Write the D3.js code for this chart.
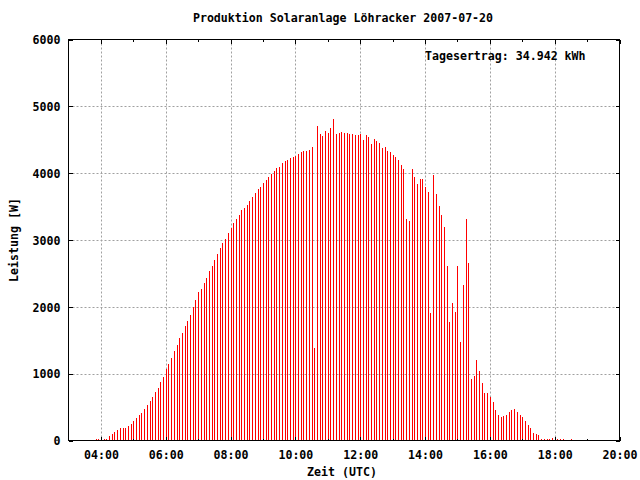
<!DOCTYPE html>
<html><head><meta charset="utf-8">
<script src="https://cdn.jsdelivr.net/npm/d3@7"></script>
<style>
html,body{margin:0;padding:0;background:#fff;}
text{font-family:"DejaVu Sans Mono",monospace;font-weight:bold;font-size:11.6px;fill:#000;}
</style></head>
<body>
<svg id="c" width="640" height="480"></svg>
<script>
// ---- data ----
const title = "Produktion Solaranlage Löhracker 2007-07-20";
const yLabel = "Leistung [W]";
const xLabel = "Zeit (UTC)";
const annotation = "Tagesertrag: 34.942 kWh";
const startTime = "03:50";       // first sample
const stepMinutes = 5;           // sampling interval
const power = [
 15,15,20,25,25,60,90,120,150,180,
 180,180,210,240,285,335,375,405,465,525,
 585,645,720,790,880,955,1065,1150,1240,1345,
 1435,1540,1615,1720,1795,1885,2000,2105,2225,2270,
 2360,2435,2540,2615,2705,2795,2885,2960,3020,3110,
 3185,3255,3315,3375,3450,3480,3525,3585,3645,3705,
 3765,3795,3855,3900,3945,3990,4035,4080,4095,4155,
 4185,4200,4230,4245,4260,4290,4320,4335,4335,4350,
 4390,1390,4705,4585,4555,4630,4600,4675,4810,4585,
 4600,4615,4600,4600,4585,4585,4570,4570,4585,4495,
 4570,4540,4435,4510,4480,4450,4375,4390,4330,4315,
 4270,4240,4195,4120,4065,3315,3285,4065,3945,3840,
 3915,3915,3795,3720,1910,3975,3690,3510,3375,3195,
 2615,1780,2060,1925,2615,1480,2330,3315,2660,925,
 970,1210,1045,865,715,715,655,570,450,375,
 345,360,375,420,450,465,420,375,345,285,
 225,180,105,90,75,15,15,15,15,30,
 10,15,15,15,0,0,15
];
const xMajorTicks = ["04:00","06:00","08:00","10:00","12:00","14:00","16:00","18:00","20:00"];
const xMinorTicks = ["05:00","07:00","09:00","11:00","13:00","15:00","17:00","19:00"];
const yTicks = [0,1000,2000,3000,4000,5000,6000];
const xDomain = ["03:00","20:00"];
const yDomain = [0,6000];

// ---- helpers ----
const toMin = s => { const [h,m] = s.split(":").map(Number); return h*60+m; };
const fmt = m => String(Math.floor(m/60)).padStart(2,"0")+":"+String(m%60).padStart(2,"0");
const t0 = toMin(startTime);
const samples = power.map((v,i)=>({t:t0+i*stepMinutes, v}));

const svg = d3.select("#c");
const L=68.5, R=619.5, T=39.5, B=440.5;
const x = d3.scaleLinear().domain(xDomain.map(toMin)).range([L,R]);
const y = d3.scaleLinear().domain(yDomain).range([B,T]);

// grid
const grid = svg.append("g").attr("stroke","#a0a0a0").attr("stroke-width",1).attr("stroke-dasharray","2,2").attr("fill","none");
xMajorTicks.map(toMin).filter(m=>x(m)>L+1 && x(m)<R-1).forEach(m=>{
  const px = Math.round(x(m))+0.5;
  grid.append("line").attr("x1",px).attr("x2",px).attr("y1",T).attr("y2",B);
});
yTicks.filter(v=>y(v)>T+1 && y(v)<B-1).forEach(v=>{
  const py = Math.round(y(v))+0.5;
  grid.append("line").attr("x1",L).attr("x2",R).attr("y1",py).attr("y2",py);
});

// bars (impulses)
svg.append("g").selectAll("rect").data(samples.filter(d=>d.v>0)).join("rect")
  .attr("x", d=>Math.round(x(d.t)))
  .attr("width", 1)
  .attr("y", d=>Math.round(y(d.v)))
  .attr("height", d=>Math.round(B-0.5)-Math.round(y(d.v)))
  .attr("fill","#ff0000")
  .attr("shape-rendering","crispEdges");

// axes via d3
const axB = d3.axisBottom(x).tickValues(xMajorTicks.map(toMin)).tickFormat(fmt).tickSizeInner(-4).tickSizeOuter(0).tickPadding(10);
const gB = svg.append("g").attr("transform",`translate(0,${B})`).call(axB);
const axBm = d3.axisBottom(x).tickValues(xMinorTicks.map(toMin)).tickFormat("").tickSizeInner(-2).tickSizeOuter(0);
const gBm = svg.append("g").attr("transform",`translate(0,${B})`).call(axBm);
const axT = d3.axisTop(x).tickValues(xMajorTicks.map(toMin)).tickFormat("").tickSizeInner(-4).tickSizeOuter(0);
const gT = svg.append("g").attr("transform",`translate(0,${T})`).call(axT);
const axTm = d3.axisTop(x).tickValues(xMinorTicks.map(toMin)).tickFormat("").tickSizeInner(-2).tickSizeOuter(0);
const gTm = svg.append("g").attr("transform",`translate(0,${T})`).call(axTm);
const axL = d3.axisLeft(y).tickValues(yTicks).tickFormat(d3.format("d")).tickSizeInner(-4).tickSizeOuter(0).tickPadding(8);
const gL = svg.append("g").attr("transform",`translate(${L},0)`).call(axL);
const axR = d3.axisRight(y).tickValues(yTicks).tickFormat("").tickSizeInner(-4).tickSizeOuter(0);
const gR = svg.append("g").attr("transform",`translate(${R},0)`).call(axR);
[gB,gBm,gT,gTm,gL,gR].forEach(g=>{
  g.select(".domain").remove();
  g.selectAll(".tick line").attr("stroke","#000").attr("shape-rendering","crispEdges");
  g.attr("font-family",null).attr("font-size",null);
});
gB.selectAll(".tick text").attr("y",null).attr("dy",null).attr("y",18).attr("fill","#000");
gL.selectAll(".tick text").attr("dy","0.36em").attr("fill","#000");

// frame
svg.append("rect").attr("x",L).attr("y",T).attr("width",R-L).attr("height",B-T)
  .attr("fill","none").attr("stroke","#000").attr("stroke-width",1);

// texts
svg.append("text").attr("x",343).attr("y",22).attr("text-anchor","middle").text(title);
svg.append("text").attr("x",425).attr("y",60).text(annotation);
svg.append("text").attr("x",342).attr("y",476).attr("text-anchor","middle").text(xLabel);
svg.append("text").attr("transform","translate(18,240) rotate(-90)").attr("text-anchor","middle").text(yLabel);
</script>
</body></html>
